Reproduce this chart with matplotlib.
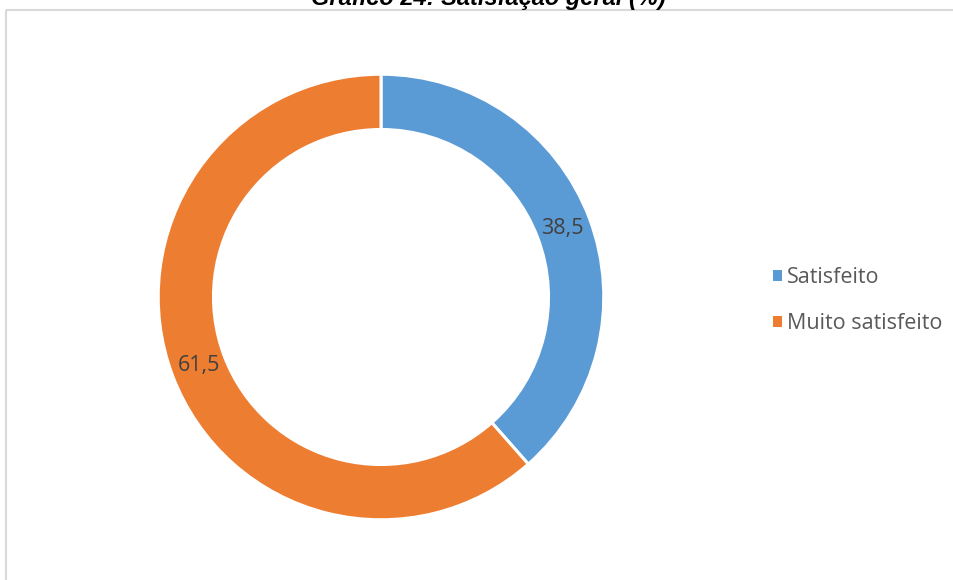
import matplotlib.pyplot as plt
from matplotlib.lines import Line2D
from matplotlib.patches import Patch

# Data
categories = ['Satisfeito', 'Muito satisfeito']
values = [38.5, 61.5]
colors = ['#5B9BD5', '#ED7D31']
title = 'Gráfico 24: Satisfação geral (%)'

W, H = 954, 580
fig = plt.figure(figsize=(W / 100, H / 100), dpi=100)
fig.patch.set_facecolor('white')

# Donut: centre (381, 297) px, outer radius 221 px
cx, cy, r = 381, 297, 221
ax = fig.add_axes([(cx - r) / W, (H - cy - r) / H, 2 * r / W, 2 * r / H])
ax.pie(values, colors=colors, startangle=90, counterclock=False, radius=1.008,
       wedgeprops=dict(width=0.25, edgecolor='white', linewidth=2.2),
       autopct=lambda p: f'{p:.1f}'.replace('.', ','), pctdistance=0.872,
       textprops=dict(color='#404040', fontsize=15.5, family='Open Sans'))
ax.set_xlim(-1.0, 1.0)
ax.set_ylim(-1.0, 1.0)
ax.set_aspect('equal')
ax.axis('off')

# Legend
handles = [Patch(facecolor=c, edgecolor='none') for c in colors]
leg = fig.legend(handles, categories, loc='center left',
                 bbox_to_anchor=(773 / W, 1 - 300.5 / H), frameon=False,
                 borderaxespad=0, borderpad=0,
                 prop={'family': 'Open Sans', 'size': 15.5},
                 handlelength=0.4, handleheight=0.4, handletextpad=0.25,
                 labelspacing=1.15)
for t in leg.get_texts():
    t.set_color('#595959')

# Chart border (only top and left visible)
bc = '#D9D9D9'
fig.add_artist(Line2D([6.5 / W, 1.0], [1 - 9.5 / H, 1 - 9.5 / H], color=bc, lw=1.5,
                      solid_capstyle='butt', transform=fig.transFigure))
fig.add_artist(Line2D([6.5 / W, 6.5 / W], [0, 1 - 9.5 / H], color=bc, lw=1.5,
                      solid_capstyle='butt', transform=fig.transFigure))

# Title, cut off at the top edge as in the source
fig.text(488 / W, 1 - 4.5 / H, title, ha='center', va='baseline',
         fontsize=17, fontweight='bold', fontstyle='italic',
         family='Liberation Sans', color='black')

fig.savefig('out.png', dpi=100, facecolor='white')
